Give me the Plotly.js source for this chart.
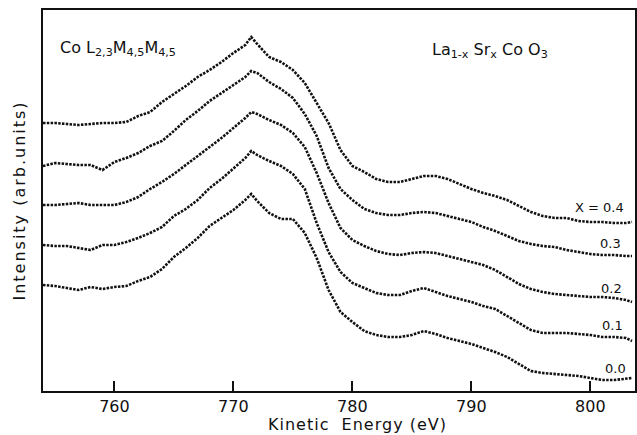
<!DOCTYPE html>
<html>
<head>
<meta charset="utf-8">
<script src="https://cdn.plot.ly/plotly-3.0.1.min.js"></script>
<style>html,body{margin:0;padding:0;background:#fff;}#chart{width:637px;height:435px;}</style>
</head>
<body>
<div id="chart"></div>
<script>
// Kinetic energy grid (eV)
const energy = [754,755,756,757,758,759,760,761,762,763,764,765,766,767,768,769,770,771,771.5,772,773,774,775,776,777,778,779,780,781,782,783,784,785,786,787,788,789,790,791,792,793,794,795,796,797,798,799,800,801,802,803,803.5];

// Intensity (arb. units, vertically offset spectra)
const x04 = [268,268,267,266,267,268,268,269,275,279,289,297,305,314,321,329,338,346,354,347,334,329,321,308,288,268,241,225,219,212,209,209,212,215,215,212,207,202,198,195,191,185,179,175,173,173,170,169,169,168,168,169];
const x03 = [225,228,227,226,226,221,229,233,238,245,250,260,271,280,290,298,306,314,320,318,309,302,293,277,255,223,202,191,182,178,176,176,178,179,178,175,172,169,164,160,155,150,147,145,144,141,139,137,136,136,135,135];
const x02 = [186,186,187,188,186,186,186,189,194,202,209,217,226,235,244,253,263,273,279,277,271,266,258,244,218,188,163,151,145,140,137,136,138,139,138,135,132,129,126,121,114,107,102,99,97,96,95,94,94,93,91,89];
const x01 = [146,145,145,143,141,146,146,149,153,158,164,175,182,191,203,212,223,233,240,236,230,225,217,202,168,139,119,108,103,98,96,96,100,103,99,95,92,89,85,82,75,68,61,58,58,58,57,56,54,54,53,50];
const x00 = [106,105,103,101,104,102,104,105,110,114,122,134,143,153,165,173,181,191,197,190,178,172,172,158,133,101,79,69,60,56,54,54,56,60,57,53,50,47,43,39,34,27,20,18,17,16,15,13,11,11,12,13];

const seriesNames = ["X = 0.4","0.3","0.2","0.1","0.0"];
const seriesData = [x04,x03,x02,x01,x00];
const labelE = [800.8,801.7,801.8,801.9,802.1];
const labelY = [184,148,103,66,23];
const tickVals = [760,770,780,790,800];

const font = "DejaVu Sans, sans-serif";
const traces = seriesData.map((ys,i)=>({
  x: energy, y: ys, type:'scatter', mode:'lines', name: seriesNames[i],
  line:{color:'#111', width:2.6, dash:'2.5px,1.3px'}, showlegend:false, hoverinfo:'skip'
}));

const annotations = seriesNames.map((t,i)=>({
  x: labelE[i], y: labelY[i], xref:'x', yref:'y', text:t, showarrow:false,
  xanchor:'center', yanchor:'middle', font:{family:font, size:13, color:'#111'}
}));
annotations.push({x:0.025, y:0.9, xref:'paper', yref:'paper', xanchor:'left', yanchor:'middle', showarrow:false,
  text:'Co L<sub>2,3</sub>M<sub>4,5</sub>M<sub>4,5</sub>', font:{family:font, size:16, color:'#111'}});
annotations.push({x:0.653, y:0.893, xref:'paper', yref:'paper', xanchor:'left', yanchor:'middle', showarrow:false,
  text:'La<sub>1-x</sub> Sr<sub>x</sub> Co O<sub>3</sub>', font:{family:font, size:16, color:'#111'}});
annotations.push({x:0.532, y:-0.089, xref:'paper', yref:'paper', xanchor:'center', yanchor:'middle', showarrow:false,
  text:'<span style="letter-spacing:1px">Kinetic  Energy (eV)</span>', font:{family:font, size:16, color:'#111'}});

const layout = {
  width:637, height:435,
  margin:{l:43, r:2, t:10, b:44},
  paper_bgcolor:'#fff', plot_bgcolor:'#fff',
  font:{family:font, color:'#111'},
  showlegend:false,
  xaxis:{range:[754,803.75], tickvals:tickVals, ticks:'inside', ticklen:10, tickwidth:1.5, tickcolor:'#111',
    showline:true, linecolor:'#111', linewidth:1.5, mirror:true, showgrid:false, zeroline:false,
    tickfont:{family:font, size:16, color:'#111'}},
  yaxis:{range:[0,381], showticklabels:false, ticks:'', showline:true, linecolor:'#111', linewidth:1.5, mirror:true,
    showgrid:false, zeroline:false,
    title:{text:'<span style="letter-spacing:2px">Intensity (arb.units)</span>', font:{family:font, size:16, color:'#111'}, standoff:12}},
  annotations: annotations
};
Plotly.newPlot('chart', traces, layout, {displayModeBar:false});
</script>
</body>
</html>
